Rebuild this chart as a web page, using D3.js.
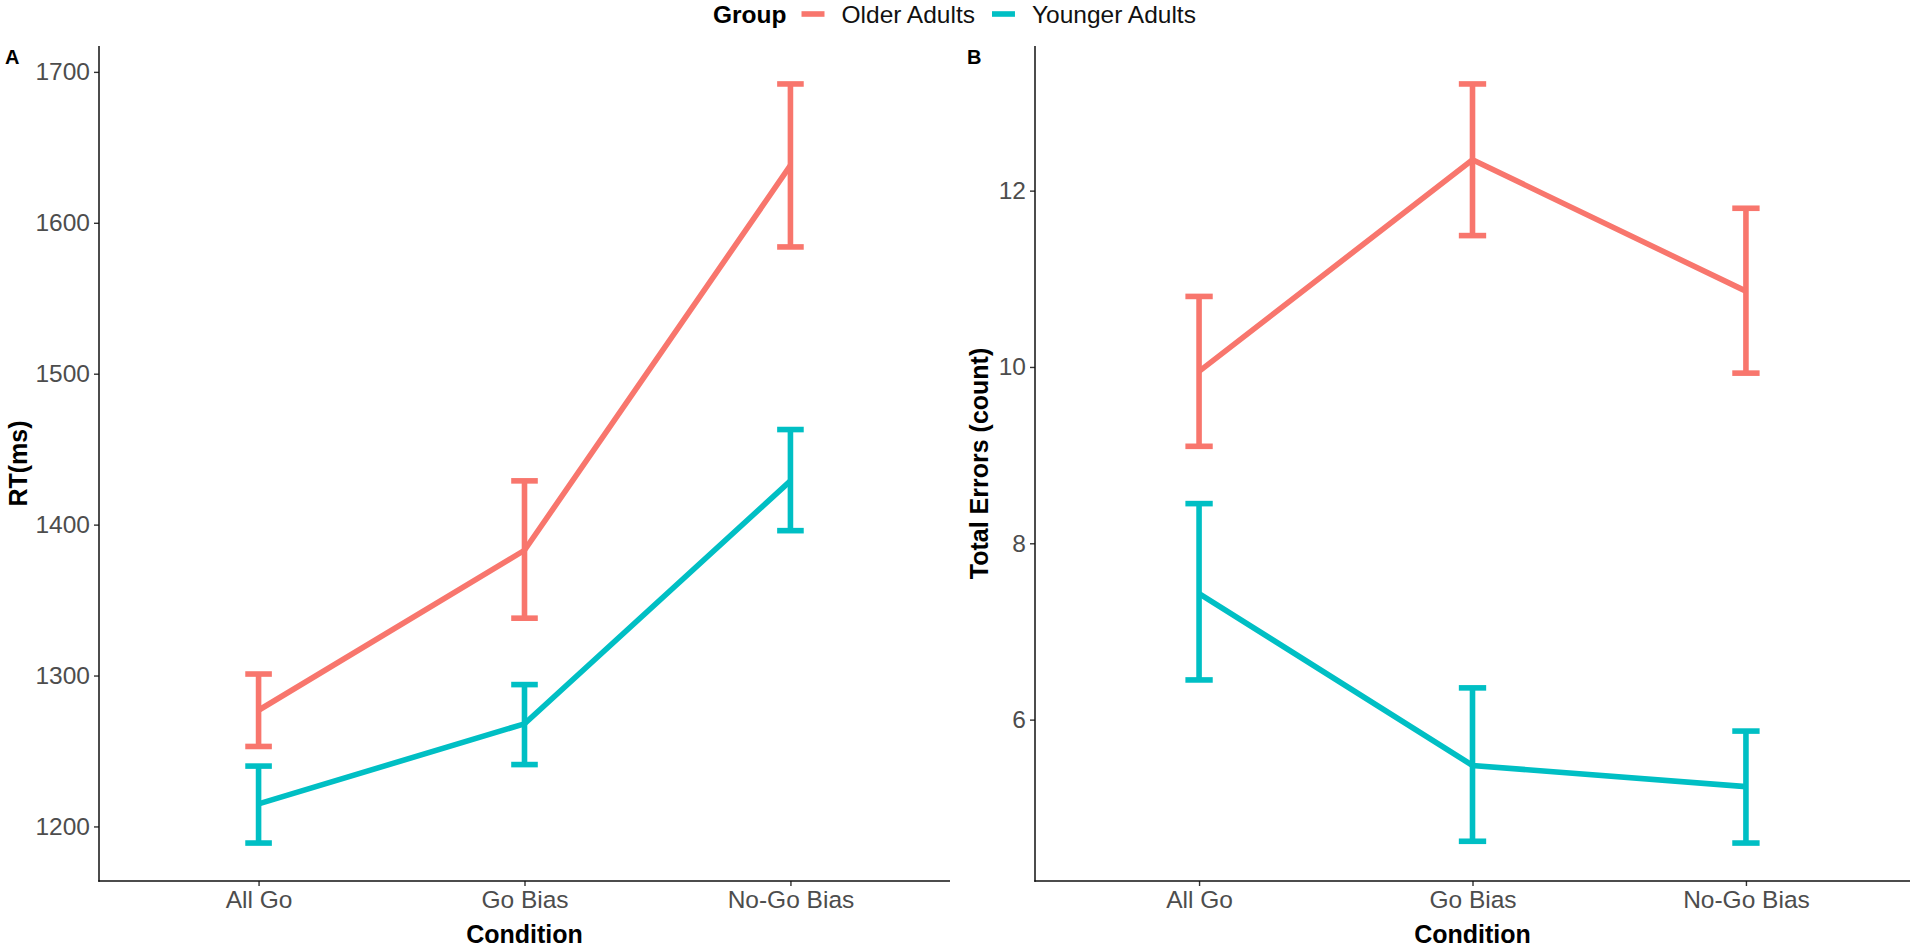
<!DOCTYPE html>
<html>
<head>
<meta charset="utf-8">
<script src="https://cdn.jsdelivr.net/npm/d3@7"></script>
<style>
  body { margin: 0; background: #fff; }
  svg { display: block; font-family: "Liberation Sans", Arial, sans-serif; }
</style>
</head>
<body>
<svg id="chart"></svg>
<script>
// data
var conditions = ["All Go", "Go Bias", "No-Go Bias"];
var groups = ["Older Adults", "Younger Adults"];
var groupColors = ["#F8766D", "#00BFC4"];

var rtOlderMean = [1277, 1383, 1638];
var rtOlderLo = [1253, 1338, 1584];
var rtOlderHi = [1301, 1429, 1692];
var rtYoungerMean = [1215, 1268, 1429];
var rtYoungerLo = [1189, 1241, 1396];
var rtYoungerHi = [1240, 1294, 1463];
var rtTicks = [1200, 1300, 1400, 1500, 1600, 1700];

var errOlderMean = [9.95, 12.35, 10.86];
var errOlderLo = [9.1, 11.49, 9.93];
var errOlderHi = [10.8, 13.21, 11.8];
var errYoungerMean = [7.43, 5.48, 5.24];
var errYoungerLo = [6.45, 4.62, 4.6];
var errYoungerHi = [8.45, 6.36, 5.87];
var errTicks = [6, 8, 10, 12];

var W = 1920, H = 947;
var LW = 5.6; // line / errorbar width
var svg = d3.select("#chart").attr("width", W).attr("height", H);

function series(mean, lo, hi) {
  return conditions.map(function(c, i) {
    return { cond: c, mean: mean[i], lo: lo[i], hi: hi[i] };
  });
}

function drawPanel(opt) {
  var x = d3.scalePoint().domain(conditions)
    .range([opt.left, opt.right]).padding(0.6);

  var all = [];
  opt.data.forEach(function(s) { s.forEach(function(d) { all.push(d.lo, d.hi); }); });
  var mn = d3.min(all), mx = d3.max(all), pad = (mx - mn) * 0.05;
  var y = d3.scaleLinear().domain([mn - pad, mx + pad]).range([opt.bottom, opt.top]);

  var g = svg.append("g");

  // y axis
  var ya = g.append("g")
    .attr("transform", "translate(" + opt.left + ",0)")
    .call(d3.axisLeft(y).tickValues(opt.ticks).tickFormat(d3.format("d"))
      .tickSize(5).tickPadding(4).tickSizeOuter(0));
  ya.select(".domain").remove();
  ya.selectAll(".tick line").attr("stroke", "#333").attr("stroke-width", 1.4);
  ya.selectAll(".tick text").attr("fill", "#4D4D4D").style("font-size", "24.5px")
    .style("font-family", "Liberation Sans, Arial, sans-serif");

  // x axis
  var xa = g.append("g")
    .attr("transform", "translate(0," + opt.bottom + ")")
    .call(d3.axisBottom(x).tickSize(5).tickPadding(5).tickSizeOuter(0));
  xa.select(".domain").remove();
  xa.selectAll(".tick line").attr("stroke", "#333").attr("stroke-width", 1.4);
  xa.selectAll(".tick text").attr("fill", "#4D4D4D").style("font-size", "24.5px")
    .style("font-family", "Liberation Sans, Arial, sans-serif");

  // axis lines
  g.append("line").attr("x1", opt.left).attr("x2", opt.left)
    .attr("y1", opt.top).attr("y2", opt.bottom + 0.7)
    .attr("stroke", "#111").attr("stroke-width", 1.5);
  g.append("line").attr("x1", opt.left - 0.7).attr("x2", opt.right)
    .attr("y1", opt.bottom).attr("y2", opt.bottom)
    .attr("stroke", "#111").attr("stroke-width", 1.5);

  // titles
  g.append("text")
    .attr("x", (opt.left + opt.right) / 2).attr("y", 943)
    .attr("text-anchor", "middle").attr("font-weight", "bold")
    .style("font-size", "25px").text("Condition");
  g.append("text")
    .attr("transform", "translate(" + opt.ytitleX + "," + ((opt.top + opt.bottom) / 2) + ") rotate(-90)")
    .attr("text-anchor", "middle").attr("font-weight", "bold")
    .style("font-size", "25px").text(opt.ytitle);
  g.append("text")
    .attr("x", opt.tagX).attr("y", 64)
    .attr("font-weight", "bold").style("font-size", "20px").text(opt.tag);

  var capHalf = x.step() * 0.05;
  var line = d3.line().x(function(d) { return x(d.cond); }).y(function(d) { return y(d.mean); });

  opt.data.forEach(function(s, k) {
    var col = groupColors[k];
    g.append("path").datum(s)
      .attr("d", line).attr("fill", "none")
      .attr("stroke", col).attr("stroke-width", LW);

    var eb = g.append("g").selectAll("g").data(s).enter().append("g");
    eb.append("line")
      .attr("x1", function(d) { return x(d.cond); })
      .attr("x2", function(d) { return x(d.cond); })
      .attr("y1", function(d) { return y(d.lo); })
      .attr("y2", function(d) { return y(d.hi); })
      .attr("stroke", col).attr("stroke-width", LW);
    ["lo", "hi"].forEach(function(key) {
      eb.append("line")
        .attr("x1", function(d) { return x(d.cond) - capHalf; })
        .attr("x2", function(d) { return x(d.cond) + capHalf; })
        .attr("y1", function(d) { return y(d[key]); })
        .attr("y2", function(d) { return y(d[key]); })
        .attr("stroke", col).attr("stroke-width", LW);
    });
  });
}

drawPanel({
  left: 99, right: 950, top: 46, bottom: 881,
  data: [series(rtOlderMean, rtOlderLo, rtOlderHi), series(rtYoungerMean, rtYoungerLo, rtYoungerHi)],
  ticks: rtTicks, ytitle: "RT(ms)", ytitleX: 27, tag: "A", tagX: 5
});

drawPanel({
  left: 1035, right: 1910, top: 46, bottom: 881,
  data: [series(errOlderMean, errOlderLo, errOlderHi), series(errYoungerMean, errYoungerLo, errYoungerHi)],
  ticks: errTicks, ytitle: "Total Errors (count)", ytitleX: 988, tag: "B", tagX: 967
});

// legend on top, centred
var leg = svg.append("g");
var lx = 713, ly = 23;
var title = leg.append("text").attr("x", lx).attr("y", ly)
  .attr("font-weight", "bold").style("font-size", "24.5px").text("Group");
lx += title.node().getComputedTextLength() + 15;
groups.forEach(function(name, i) {
  leg.append("line").attr("x1", lx).attr("x2", lx + 23)
    .attr("y1", ly - 9).attr("y2", ly - 9)
    .attr("stroke", groupColors[i]).attr("stroke-width", LW);
  lx += 23 + 17;
  var t = leg.append("text").attr("x", lx).attr("y", ly)
    .style("font-size", "24.5px").attr("fill", "#111").text(name);
  lx += t.node().getComputedTextLength() + 17;
});
</script>
</body>
</html>
